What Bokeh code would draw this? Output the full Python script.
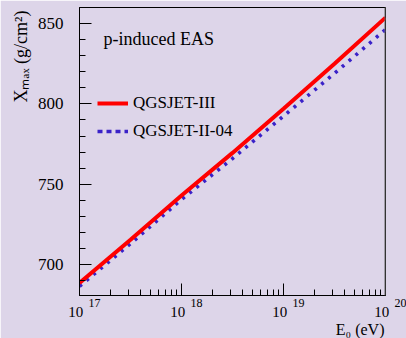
from bokeh.plotting import figure
from bokeh.models import (FixedTicker, CustomJSTickFormatter, Label, Span, Legend, LegendItem,
                          CDSView, IndexFilter, ColumnDataSource, Range1d, LogAxis, Title)
from bokeh.embed import file_html
from bokeh.resources import INLINE

# ---- data ----
log_energy = [17.0, 17.5, 18.0, 18.5, 19.0, 19.5, 20.0]
xmax_qgsjet3 = [688.5, 715.5, 743.0, 769.5, 797.0, 825.0, 853.7]
xmax_qgsjet2 = [686.5, 713.0, 740.5, 766.0, 792.4, 819.0, 846.3]
series_labels = ["QGSJET-III", "QGSJET-II-04"]
y_major = [700, 750, 800, 850]
y_minor = [690, 710, 720, 730, 740, 760, 770, 780, 790, 810, 820, 830, 840, 860]
x_decades = [17, 18, 19, 20]
title_text = "p-induced EAS"
x_title = "E\u2080 (eV)"
y_title = "X\u2098\u2090\u2093 (g/cm\u00b2)"

BG = "#ddd5e9"
RED = "#ff0000"
BLUE = "#3a22c8"
FONT = "Liberation Serif"
X0, X1 = 1e17, 1e20
Y0, Y1 = 680.75, 860.0

p = figure(width=406, height=338, x_axis_type="log",
           x_range=Range1d(X0, X1), y_range=Range1d(Y0, Y1),
           output_backend="svg", toolbar_location=None,
           min_border_left=79, min_border_right=21, min_border_top=7, min_border_bottom=43)
p.background_fill_color = BG
p.border_fill_color = BG
p.outline_line_color = "black"
p.outline_line_width = 1
p.xgrid.visible = False
p.ygrid.visible = False

decade_ticks = [10.0 ** d for d in x_decades]

# axes
for ax in (p.xaxis, p.yaxis):
    ax.axis_line_color = "black"
    ax.axis_line_width = 1
    ax.major_tick_line_color = "black"
    ax.minor_tick_line_color = "black"
    ax.major_tick_in = 12
    ax.major_tick_out = 0
    ax.minor_tick_in = 6
    ax.minor_tick_out = 0

# bottom axis: ticks + exponents (superscripts)
p.xaxis.ticker = FixedTicker(ticks=decade_ticks,
                             minor_ticks=[k * 10.0 ** d for d in x_decades[:-1] for k in range(2, 10)])
p.xaxis.formatter = CustomJSTickFormatter(
    code="return '\\u2007\\u2007\\u2007\\u2007\\u2007' + Math.round(Math.log10(tick))")
p.xaxis.major_label_text_font = FONT
p.xaxis.major_label_text_font_size = "12px"
p.xaxis.major_label_text_color = "black"
p.xaxis.major_label_standoff = 0

# second bottom axis: the "10" bases
base_axis = LogAxis(ticker=FixedTicker(ticks=decade_ticks, minor_ticks=[]),
                    formatter=CustomJSTickFormatter(code="return '10\\u2007'"),
                    axis_line_color=None, major_tick_line_color=None, minor_tick_line_color=None,
                    major_tick_in=0, major_tick_out=0, minor_tick_in=0, minor_tick_out=0,
                    major_label_standoff=-9, major_label_text_font=FONT,
                    major_label_text_font_size="15px", major_label_text_color="black")
p.add_layout(base_axis, "below")

p.add_layout(Title(text=x_title, align="right", text_font=FONT, text_font_size="16px",
                   text_font_style="normal", text_color="black", standoff=-8, offset=1), "below")

p.yaxis.ticker = FixedTicker(ticks=y_major, minor_ticks=y_minor)
p.yaxis.major_label_text_font = FONT
p.yaxis.major_label_text_font_size = "17px"
p.yaxis.major_label_text_color = "black"
p.yaxis.major_label_standoff = 16

p.add_layout(Title(text=y_title, align="right", text_font=FONT, text_font_size="18px",
                   text_font_style="normal", text_color="black", standoff=8, offset=3), "left")

# curves
src = ColumnDataSource(dict(e=[10.0 ** v for v in log_energy], r=xmax_qgsjet3, b=xmax_qgsjet2))
p.line("e", "b", source=src, line_color=BLUE, line_width=3.6, line_dash="3 6")
p.line("e", "r", source=src, line_color=RED, line_width=4)

# legend (renderers that draw nothing in the frame, only legend samples)
lr = p.line("e", "r", source=src, view=CDSView(filter=IndexFilter(indices=[0])),
            line_color=RED, line_width=4)
lb = p.line("e", "b", source=src, view=CDSView(filter=IndexFilter(indices=[0])),
            line_color=BLUE, line_width=3.7, line_dash="5 4")
legend = Legend(items=[LegendItem(label=series_labels[0], renderers=[lr]),
                       LegendItem(label=series_labels[1], renderers=[lb])],
                location=(18, 150), orientation="vertical",
                glyph_width=31, glyph_height=28, label_height=28, label_standoff=5,
                spacing=0, padding=0, margin=0,
                border_line_color=None, background_fill_alpha=0,
                label_text_font=FONT, label_text_font_size="17px", label_text_color="black")
p.add_layout(legend)

# right frame edge (grey, thicker)
p.add_layout(Span(location=X1, dimension="height", line_color="#666666", line_width=2))

# title inside the frame
p.add_layout(Label(x=X0, y=Y1, x_offset=24, y_offset=-31, text=title_text,
                   text_font=FONT, text_font_size="18px", text_color="black",
                   text_align="left", text_baseline="alphabetic"))

open("out.html", "w").write(file_html(p, INLINE))
